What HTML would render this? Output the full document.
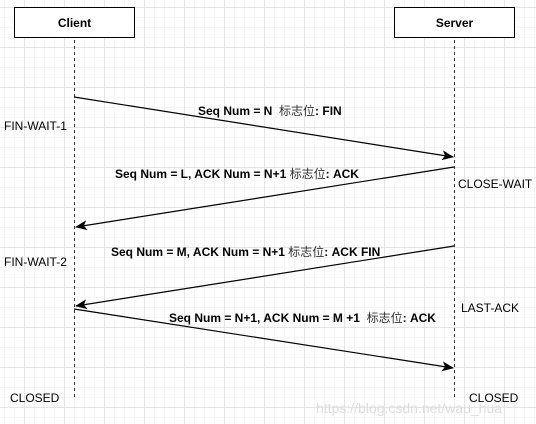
<!DOCTYPE html>
<html><head><meta charset="utf-8"><style>
html,body{margin:0;padding:0;background:#fff;}
svg{display:block;}
text{font-family:"Liberation Sans","Noto Sans CJK SC",sans-serif;font-size:12px;fill:#000;white-space:pre;}
.b{font-weight:bold;}
.c{font-weight:normal;fill:#333;}
</style></head><body>
<svg width="536" height="424" viewBox="0 0 536 424" xmlns="http://www.w3.org/2000/svg" xml:space="preserve">
<defs>
<pattern id="minor" x="4" y="7" width="10" height="10" patternUnits="userSpaceOnUse"><path d="M0 0.5H10M0.5 0V10" stroke="#f5f5f5" stroke-width="1" fill="none"/></pattern>
<pattern id="major" x="24" y="7" width="40" height="40" patternUnits="userSpaceOnUse"><path d="M0 0.5H40M0.5 0V40" stroke="#e4e4e4" stroke-width="1" fill="none"/></pattern>
<marker id="ah" markerWidth="12" markerHeight="10" refX="11" refY="5" orient="auto" markerUnits="userSpaceOnUse"><path d="M0 0L12 5L0 10L3 5Z" fill="#000"/></marker>
</defs>
<rect width="536" height="424" fill="url(#minor)"/>
<rect width="536" height="424" fill="url(#major)"/>
<rect x="14.5" y="7.5" width="120" height="30" fill="#fff" stroke="#000"/>
<text class="b" x="74.5" y="27" text-anchor="middle">Client</text>
<rect x="394.5" y="7.5" width="120" height="30" fill="#fff" stroke="#000"/>
<text class="b" x="454.5" y="27" text-anchor="middle">Server</text>
<line x1="74.5" y1="40" x2="74.5" y2="400" stroke="#333" stroke-dasharray="3,3"/>
<line x1="454.5" y1="40" x2="454.5" y2="400" stroke="#333" stroke-dasharray="3,3"/>
<g stroke="#000" stroke-width="1.2" fill="none">
<line x1="74" y1="97" x2="453" y2="157" marker-end="url(#ah)"/>
<line x1="454" y1="167" x2="76" y2="227" marker-end="url(#ah)"/>
<line x1="454" y1="246" x2="76" y2="306" marker-end="url(#ah)"/>
<line x1="74" y1="309" x2="453" y2="368" marker-end="url(#ah)"/>
</g>
<text class="b" x="198" y="115">Seq Num = N  <tspan class="c">标志位</tspan>: FIN</text>
<text class="b" x="115" y="178">Seq Num = L, ACK Num = N+1 <tspan class="c">标志位</tspan>: ACK</text>
<text class="b" x="111" y="256">Seq Num = M, ACK Num = N+1 <tspan class="c">标志位</tspan>: ACK FIN</text>
<text class="b" x="169" y="322">Seq Num = N+1, ACK Num = M +1  <tspan class="c">标志位</tspan>: ACK</text>
<text x="4" y="130">FIN-WAIT-1</text>
<text x="458" y="188">CLOSE-WAIT</text>
<text x="4" y="266">FIN-WAIT-2</text>
<text x="461" y="312">LAST-ACK</text>
<text x="10" y="402">CLOSED</text>
<text x="469" y="402">CLOSED</text>
<text x="316" y="413" style="font-size:14px;fill:#ddd">https://blog.csdn.net/wau_hua</text>
</svg>
</body></html>
